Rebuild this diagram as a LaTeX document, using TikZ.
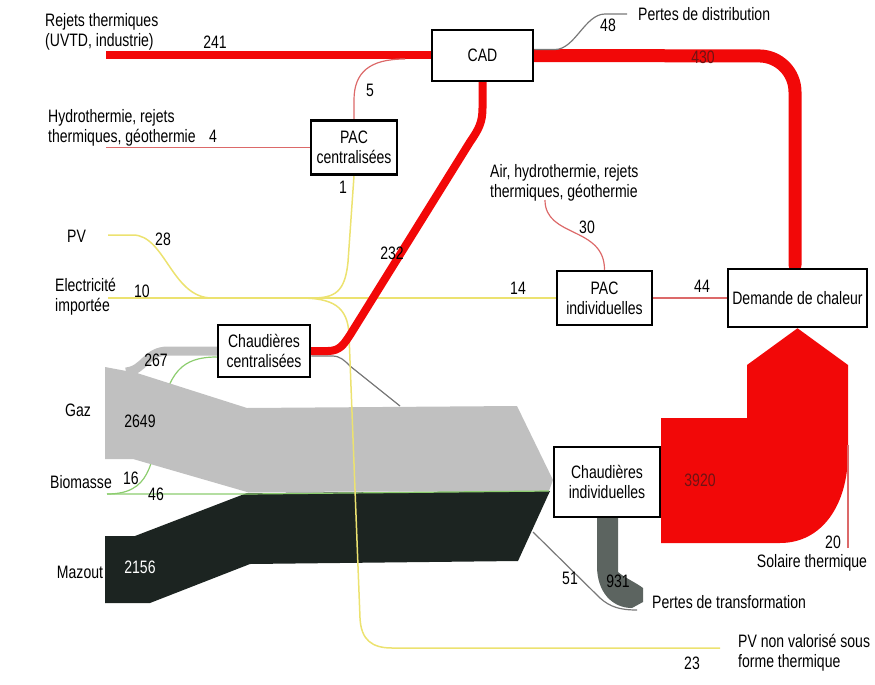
\documentclass[tikz,border=0pt]{standalone}
\usepackage{fontspec}
\setmainfont{Liberation Sans}[FakeStretch=0.78]
\usetikzlibrary{calc}
\pgfdeclarelayer{bg}
\pgfsetlayers{bg,main}
\definecolor{flowred}{RGB}{242,8,8}
\definecolor{thinred}{RGB}{220,105,105}
\definecolor{flowyel}{RGB}{236,226,112}
\definecolor{flowgreen}{RGB}{140,205,110}
\definecolor{gasgray}{RGB}{192,192,192}
\definecolor{lossgray}{RGB}{92,100,96}
\definecolor{oilblack}{RGB}{28,36,33}
\definecolor{linegray}{RGB}{120,120,120}
\definecolor{numred}{RGB}{110,20,20}
\tikzset{
 box/.style={draw=black, line width=2.5pt, fill=white, inner sep=0pt, align=center},
 lbl/.style={inner sep=0pt, align=left},
 num/.style={inner sep=0pt},
 thinflow/.style={line width=1.2pt},
}
\begin{document}
\begin{tikzpicture}[x=1pt,y=-1pt,font=\fontsize{18}{20}\selectfont]
\useasboundingbox (0,0) rectangle (875,685);
% boxes
\node[box, minimum width=101pt, minimum height=51pt] (cad) at (482.5,55.5) {CAD};
\node[box, minimum width=86pt, minimum height=54pt] (pacc) at (354,147.5) {PAC\\centralisées};
\node[box, minimum width=95pt, minimum height=54pt] (paci) at (604.5,298) {PAC\\individuelles};
\node[box, minimum width=139pt, minimum height=58pt] (dem) at (797.5,298) {Demande de chaleur};
\node[box, minimum width=92pt, minimum height=52pt] (chc) at (264,351) {Chaudières\\centralisées};
\node[box, minimum width=106pt, minimum height=70pt] (chi) at (607,482) {Chaudières\\individuelles};
% free ends
\coordinate (rejIn) at (106,55.5);
\coordinate (hydIn) at (106,147.5);
\coordinate (pvIn) at (108,235);
\coordinate (elIn) at (108,298);
\coordinate (airIn) at (545,200);
\coordinate (perDist) at (627,14);
\coordinate (pvOut) at (720,648);
\coordinate (solIn) at (848,548);
\coordinate (bioIn) at (107,494);
\coordinate (merge5) at (405,59);
\begin{pgfonlayer}{bg}
% green 16 (behind gas)
\draw[flowgreen, thinflow] (bioIn) .. controls (150,494) and (152,465) .. (160,420) .. controls (168,372) and (182,357) .. ($(chc.west)+(0,6)$);
% oil
\fill[oilblack] (105,536) -- (135,536) -- (247,493) -- (550,491) -- (518,561) -- (250,564) -- (150,603) -- (105,603) -- cycle;
% gas
\fill[gasgray] (105,367) -- (137,373) -- (247,408) -- (517,406) -- (553,480) -- (549,491) -- (247,492) -- (133,459) -- (105,459) -- cycle;
\draw[gasgray, line width=9pt] (126,372) .. controls (145,370) and (146,351) .. (168,351) -- (chc.west);
% green 46
\draw[flowgreen, thinflow] (bioIn) -- (247,494) -- ($(chi.west)+(-4,9)$);
% gray from chaudieres centralisees
\draw[linegray, thinflow] ($(chc.east)+(0,5)$) -- (332,356) .. controls (340,356) and (344,360) .. (350,366) -- (400,406);
% yellow flows
\draw[flowyel, line width=1.5pt] (pacc.south) -- (348,262) .. controls (345,292) and (335,298) .. (312,298);
\draw[flowyel, line width=1.5pt] (pvIn) -- (133,235) .. controls (165,235) and (172,298) .. (212,298) -- (300,298) .. controls (332,298) and (348,306) .. (349,335) -- (360,618) .. controls (361,640) and (372,648) .. (392,648) -- (pvOut);
\draw[flowyel, line width=1.5pt] (elIn) -- (paci.west);
% red 232
\draw[flowred, line width=8pt, line cap=round] (chc.east) -- (328,351) .. controls (340,351) and (344,344) .. (350,335) -- (470,142) .. controls (479,129) and (482.5,122) .. (482.5,108) -- (cad.south);
% red 241
\draw[flowred, line width=8pt] (rejIn) -- (cad.west);
% thin 5 and 4
\draw[thinred, thinflow] (pacc.north) -- (354,100) .. controls (354,72) and (370,59) .. (merge5);
\draw[thinred, thinflow] (hydIn) -- (pacc.west);
% red 430
\draw[flowred, line width=13pt, rounded corners=36pt, line cap=round] (cad.east) -- (795,56) -- (795,265);
% gray 48
\draw[linegray, thinflow] ($(cad.east)+(0,-6)$) -- (555,49.5) .. controls (575,49.5) and (585,14) .. (605,14) -- (perDist);
% thin 30, 44
\draw[thinred, thinflow] (airIn) .. controls (545,238) and (604.5,226) .. (paci.north);
\draw[thinred, thinflow] (paci.east) -- (dem.west);
% big red 3920
\fill[flowred] (dem.south) -- (848,365) -- (848,453) .. controls (848,505) and (822,543) .. (780,543) -- (661,543) -- (661,418) -- (747,418) -- (747,365) -- cycle;
\draw[thinred, thinflow] (solIn) -- (848,445);
% losses 931
\fill[lossgray] (597,517) -- (618,517) -- (618,572) .. controls (625,578) and (635,582) .. (643,588) -- (643,602) -- (632,608) .. controls (612,608) and (597,592) .. (597,566) -- cycle;
% gray 51
\draw[linegray, thinflow] (533,532) -- (600,598) .. controls (610,607) and (620,610) .. (637,610);
\end{pgfonlayer}
% labels
\node[lbl, anchor=west] (tRej) at (45,32) {Rejets thermiques\\(UVTD, industrie)};
\node[num] (n241) at (215,42) {241};
\node[num] (n5) at (370,90) {5};
\node[lbl, anchor=west] (tHyd) at (48,127.5) {Hydrothermie, rejets\\thermiques, géothermie};
\node[num] (n4) at (213,136) {4};
\node[num] (n1) at (343,187) {1};
\node[lbl, anchor=west] (tPV) at (67,236) {PV};
\node[num] (n28) at (163,239) {28};
\node[lbl, anchor=west] (tEl) at (55,297) {Electricité\\importée};
\node[num] (n10) at (142,291) {10};
\node[num] (n232) at (392,253) {232};
\node[num] (n14) at (518,288) {14};
\node[num] (n44) at (702,286) {44};
\node[num] (n30) at (587,227) {30};
\node[lbl, anchor=west] (tAir) at (490,183) {Air, hydrothermie, rejets\\thermiques, géothermie};
\node[num] (n48) at (608,25) {48};
\node[lbl, anchor=west] (tPD) at (638,14) {Pertes de distribution};
\node[num, text=numred] (n430) at (703,57) {430};
\node[num] (n267) at (156,360) {267};
\node[num] (tGaz) at (78,410) {Gaz};
\node[num] (n2649) at (140,421) {2649};
\node[num] (n16) at (131,478) {16};
\node[num] (tBio) at (81,482) {Biomasse};
\node[num] (n46) at (156,494) {46};
\node[num] (tMaz) at (80,572) {Mazout};
\node[num, text=white] (n2156) at (140,567) {2156};
\node[num, text=numred] (n3920) at (700,480) {3920};
\node[num] (n51) at (570,578) {51};
\node[num] (n931) at (618,581) {931};
\node[lbl, anchor=west] (tPT) at (652,602) {Pertes de transformation};
\node[num] (n20) at (833,542) {20};
\node[num] (tSol) at (812,563) {Solaire thermique};
\node[num] (n23) at (692,663) {23};
\node[lbl, anchor=west] (tPVn) at (738,653) {PV non valorisé sous\\forme thermique};
\end{tikzpicture}
\end{document}
